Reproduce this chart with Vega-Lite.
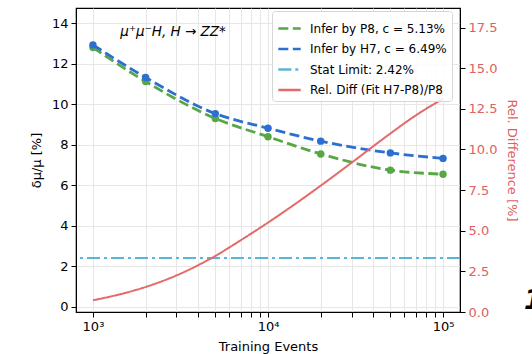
{
  "$schema": "https://vega.github.io/schema/vega-lite/v6.json",
  "width": 384,
  "height": 304,
  "autosize": "none",
  "padding": {"left": 76, "top": 8, "right": 72, "bottom": 42},
  "background": "white",
  "config": {
    "font": "DejaVu Sans",
    "view": {"stroke": "#000000", "strokeWidth": 1.2},
    "axis": {
      "labelFont": "DejaVu Sans", "titleFont": "DejaVu Sans",
      "labelFontSize": 13, "titleFontSize": 13, "titleFontWeight": "normal",
      "labelColor": "#000000", "titleColor": "#000000",
      "tickColor": "#000000", "domainColor": "#000000",
      "gridColor": "#e4e4e4", "gridWidth": 0.9, "tickSize": 5, "labelPadding": 3
    },
    "legend": {
      "orient": "none", "legendX": 196, "legendY": 3,
      "symbolType": "stroke", "symbolSize": 500, "symbolStrokeWidth": 2.5,
      "labelFont": "DejaVu Sans", "labelFontSize": 12, "labelColor": "#000000",
      "fillColor": "rgba(255,255,255,0.85)", "strokeColor": "#d6d6d6", "cornerRadius": 3,
      "padding": 5, "rowPadding": 1.5, "labelOffset": 8, "labelLimit": 300
    }
  },
  "datasets": {
    "pts": [
      {"N": 1000, "v": 12.8, "series": "Infer by P8, c = 5.13%"},
      {"N": 2000, "v": 11.12, "series": "Infer by P8, c = 5.13%"},
      {"N": 5000, "v": 9.3, "series": "Infer by P8, c = 5.13%"},
      {"N": 10000, "v": 8.4, "series": "Infer by P8, c = 5.13%"},
      {"N": 20000, "v": 7.55, "series": "Infer by P8, c = 5.13%"},
      {"N": 50000, "v": 6.75, "series": "Infer by P8, c = 5.13%"},
      {"N": 100000, "v": 6.55, "series": "Infer by P8, c = 5.13%"},
      {"N": 1000, "v": 12.93, "series": "Infer by H7, c = 6.49%"},
      {"N": 2000, "v": 11.32, "series": "Infer by H7, c = 6.49%"},
      {"N": 5000, "v": 9.54, "series": "Infer by H7, c = 6.49%"},
      {"N": 10000, "v": 8.82, "series": "Infer by H7, c = 6.49%"},
      {"N": 20000, "v": 8.18, "series": "Infer by H7, c = 6.49%"},
      {"N": 50000, "v": 7.6, "series": "Infer by H7, c = 6.49%"},
      {"N": 100000, "v": 7.33, "series": "Infer by H7, c = 6.49%"}
    ],
    "stat": [{"v": 2.42, "series": "Stat Limit: 2.42%"}],
    "rel": [
      {"N": 1000, "r": 0.72, "series": "Rel. Diff (Fit H7-P8)/P8"},
      {"N": 1500, "r": 1.15, "series": "Rel. Diff (Fit H7-P8)/P8"},
      {"N": 2000, "r": 1.54, "series": "Rel. Diff (Fit H7-P8)/P8"},
      {"N": 3000, "r": 2.25, "series": "Rel. Diff (Fit H7-P8)/P8"},
      {"N": 5000, "r": 3.45, "series": "Rel. Diff (Fit H7-P8)/P8"},
      {"N": 7000, "r": 4.42, "series": "Rel. Diff (Fit H7-P8)/P8"},
      {"N": 10000, "r": 5.5, "series": "Rel. Diff (Fit H7-P8)/P8"},
      {"N": 20000, "r": 7.77, "series": "Rel. Diff (Fit H7-P8)/P8"},
      {"N": 30000, "r": 9.18, "series": "Rel. Diff (Fit H7-P8)/P8"},
      {"N": 50000, "r": 10.98, "series": "Rel. Diff (Fit H7-P8)/P8"},
      {"N": 70000, "r": 12.1, "series": "Rel. Diff (Fit H7-P8)/P8"},
      {"N": 100000, "r": 13.12, "series": "Rel. Diff (Fit H7-P8)/P8"}
    ],
    "notes": [
      {"N": 2870, "v": 13.55, "label": "μ⁺μ⁻H, H → ZZ*", "kind": "title"},
      {"N": 290000, "v": 0.3, "label": "1", "kind": "panel"}
    ]
  },
  "layer": [
    {
      "layer": [
        {
          "data": {"name": "pts"},
          "transform": [{"filter": "datum.series == 'Infer by P8, c = 5.13%'"}],
          "mark": {"type": "line", "strokeWidth": 2.8, "interpolate": "monotone"},
          "encoding": {
            "x": {
              "field": "N", "type": "quantitative",
              "scale": {"type": "log", "domain": [800, 125000], "nice": false},
              "axis": {
                "title": "Training Events",
                "values": [1000, 2000, 3000, 4000, 5000, 6000, 7000, 8000, 9000, 10000, 20000, 30000, 40000, 50000, 60000, 70000, 80000, 90000, 100000],
                "labelExpr": "datum.value == 1000 ? '10³' : datum.value == 10000 ? '10⁴' : datum.value == 100000 ? '10⁵' : ''",
                "labelFlush": false, "labelOverlap": false, "titlePadding": 7
              }
            },
            "y": {
              "field": "v", "type": "quantitative",
              "scale": {"domain": [-0.25, 14.75], "nice": false, "zero": false},
              "axis": {"title": "δμ/μ [%]", "values": [0, 2, 4, 6, 8, 10, 12, 14], "titlePadding": 8}
            },
            "color": {
              "field": "series", "type": "nominal",
              "scale": {
                "domain": ["Infer by P8, c = 5.13%", "Infer by H7, c = 6.49%", "Stat Limit: 2.42%", "Rel. Diff (Fit H7-P8)/P8"],
                "range": ["#56a844", "#2d6fd1", "#5bb5d8", "#e46a6a"]
              },
              "legend": {"title": null}
            },
            "strokeDash": {
              "field": "series", "type": "nominal",
              "scale": {
                "domain": ["Infer by P8, c = 5.13%", "Infer by H7, c = 6.49%", "Stat Limit: 2.42%", "Rel. Diff (Fit H7-P8)/P8"],
                "range": [[10, 4.5], [10, 4.5], [13, 4, 3, 4], [1, 0]]
              },
              "legend": {"title": null}
            }
          }
        },
        {
          "data": {"name": "pts"},
          "transform": [{"filter": "datum.series == 'Infer by P8, c = 5.13%'"}],
          "mark": {"type": "point", "filled": true, "size": 55, "opacity": 1},
          "encoding": {
            "x": {"field": "N", "type": "quantitative"},
            "y": {"field": "v", "type": "quantitative"},
            "color": {"value": "#56a844"}
          }
        },
        {
          "data": {"name": "pts"},
          "transform": [{"filter": "datum.series == 'Infer by H7, c = 6.49%'"}],
          "mark": {"type": "line", "strokeWidth": 2.8, "interpolate": "monotone"},
          "encoding": {
            "x": {"field": "N", "type": "quantitative"},
            "y": {"field": "v", "type": "quantitative"},
            "color": {"field": "series", "type": "nominal", "legend": {"title": null}},
            "strokeDash": {"field": "series", "type": "nominal", "legend": {"title": null}}
          }
        },
        {
          "data": {"name": "pts"},
          "transform": [{"filter": "datum.series == 'Infer by H7, c = 6.49%'"}],
          "mark": {"type": "point", "filled": true, "size": 55, "opacity": 1},
          "encoding": {
            "x": {"field": "N", "type": "quantitative"},
            "y": {"field": "v", "type": "quantitative"},
            "color": {"value": "#2d6fd1"}
          }
        },
        {
          "data": {"name": "stat"},
          "mark": {"type": "rule", "strokeWidth": 2},
          "encoding": {
            "y": {"field": "v", "type": "quantitative"},
            "color": {"field": "series", "type": "nominal", "legend": {"title": null}},
            "strokeDash": {"field": "series", "type": "nominal", "legend": {"title": null}}
          }
        },
        {
          "data": {"name": "notes"},
          "transform": [{"filter": "datum.kind == 'title'"}],
          "mark": {"type": "text", "fontSize": 13.5, "fontStyle": "italic", "color": "#000000", "align": "center", "baseline": "middle"},
          "encoding": {
            "x": {"field": "N", "type": "quantitative"},
            "y": {"field": "v", "type": "quantitative"},
            "text": {"field": "label"}
          }
        },
        {
          "data": {"name": "notes"},
          "transform": [{"filter": "datum.kind == 'panel'"}],
          "mark": {"type": "text", "fontSize": 26, "fontStyle": "italic", "fontWeight": "bold", "color": "#000000", "align": "left", "baseline": "middle", "clip": false},
          "encoding": {
            "x": {"field": "N", "type": "quantitative"},
            "y": {"field": "v", "type": "quantitative"},
            "text": {"field": "label"}
          }
        }
      ]
    },
    {
      "data": {"name": "rel"},
      "mark": {"type": "line", "strokeWidth": 2, "interpolate": "monotone"},
      "encoding": {
        "x": {"field": "N", "type": "quantitative"},
        "y": {
          "field": "r", "type": "quantitative",
          "scale": {"domain": [0, 18.7], "nice": false, "zero": false},
          "axis": {
            "orient": "right", "title": "Rel. Difference [%]", "grid": false,
            "values": [0, 2.5, 5, 7.5, 10, 12.5, 15, 17.5], "format": ".1f",
            "labelColor": "#e06060", "titleColor": "#e06060", "titlePadding": 8
          }
        },
        "color": {"field": "series", "type": "nominal", "legend": {"title": null}},
        "strokeDash": {"field": "series", "type": "nominal", "legend": {"title": null}}
      }
    }
  ],
  "resolve": {"scale": {"y": "independent"}}
}
